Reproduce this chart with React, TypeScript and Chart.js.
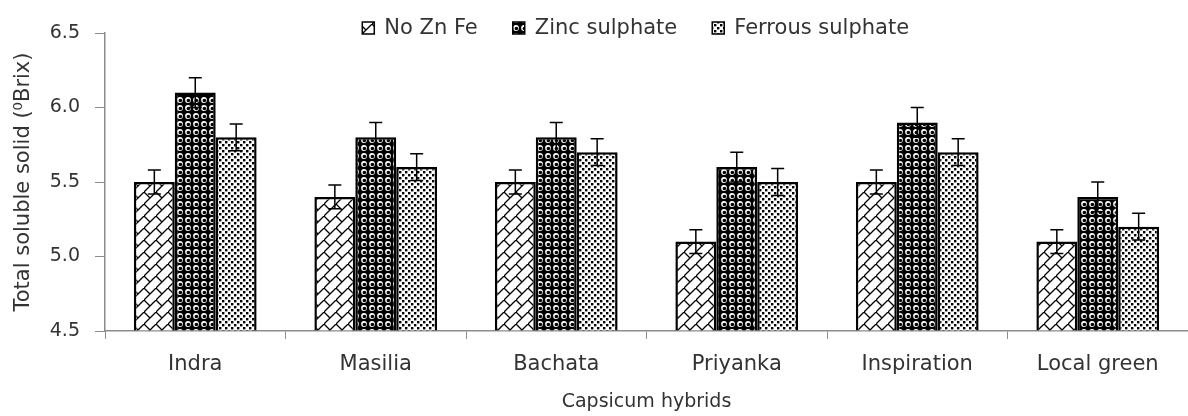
import React, { useEffect, useRef } from "react";
import { Chart, registerables } from "chart.js";

Chart.register(...registerables);

const categories = ["Indra", "Masilia", "Bachata", "Priyanka", "Inspiration", "Local green"];
const seriesNames = ["No Zn Fe", "Zinc sulphate", "Ferrous sulphate"];
const noZnFe = [5.5, 5.4, 5.5, 5.1, 5.5, 5.1];
const zincSulphate = [6.1, 5.8, 5.8, 5.6, 5.9, 5.4];
const ferrousSulphate = [5.8, 5.6, 5.7, 5.5, 5.7, 5.2];
const noZnFeErr = [0.08, 0.08, 0.08, 0.08, 0.08, 0.08];
const zincErr = [0.1, 0.1, 0.1, 0.1, 0.1, 0.1];
const ferrousErr = [0.09, 0.09, 0.09, 0.09, 0.09, 0.09];
const yTicks = [4.5, 5.0, 5.5, 6.0, 6.5];
const yTitle = "Total soluble solid (\u2070Brix)";
const xTitle = "Capsicum hybrids";

const FONT = "'DejaVu Sans', sans-serif";
const TEXT = "#333333";
const AXIS = "#8c8c8c";

function makeTile(size: number, draw: (c: CanvasRenderingContext2D) => void) {
  const cv = document.createElement("canvas");
  cv.width = size;
  cv.height = size;
  const c = cv.getContext("2d")!;
  draw(c);
  return c.createPattern(cv, "repeat")!;
}

function brickPattern() {
  return makeTile(12, (c) => {
    c.fillStyle = "#fff";
    c.fillRect(0, 0, 12, 12);
    c.strokeStyle = "#000";
    c.lineWidth = 1.3;
    c.beginPath();
    c.moveTo(-1, 13);
    c.lineTo(13, -1);
    c.moveTo(0, 0);
    c.lineTo(6, 6);
    c.moveTo(12, 0);
    c.lineTo(18, 6);
    c.moveTo(-6, 6);
    c.lineTo(0, 12);
    c.stroke();
  });
}

function spherePattern() {
  return makeTile(8, (c) => {
    c.fillStyle = "#000";
    c.fillRect(0, 0, 8, 8);
    c.fillStyle = "#fff";
    c.beginPath();
    c.arc(4, 4, 2.9, 0, Math.PI * 2);
    c.fill();
    c.fillStyle = "#000";
    c.beginPath();
    c.arc(4.4, 4.5, 1.8, 0, Math.PI * 2);
    c.fill();
  });
}

function dotPattern() {
  return makeTile(6, (c) => {
    c.fillStyle = "#fff";
    c.fillRect(0, 0, 6, 6);
    c.fillStyle = "#000";
    c.fillRect(0, 0, 2.4, 2.4);
    c.fillRect(3, 3, 2.4, 2.4);
  });
}

const errors = [noZnFeErr, zincErr, ferrousErr];

const errorBarPlugin = {
  id: "errorBars",
  afterDatasetsDraw(chart: any) {
    const { ctx } = chart;
    const y = chart.scales.y;
    chart.data.datasets.forEach((ds: any, i: number) => {
      const meta = chart.getDatasetMeta(i);
      meta.data.forEach((bar: any, j: number) => {
        const v = ds.data[j];
        const e = errors[i][j];
        const x = bar.x;
        const yt = y.getPixelForValue(v + e);
        const yb = y.getPixelForValue(v - e);
        ctx.save();
        ctx.strokeStyle = "#000";
        ctx.lineWidth = 1.5;
        ctx.beginPath();
        ctx.moveTo(x, yt);
        ctx.lineTo(x, yb);
        ctx.moveTo(x - 6.5, yt);
        ctx.lineTo(x + 6.5, yt);
        ctx.moveTo(x - 6.5, yb);
        ctx.lineTo(x + 6.5, yb);
        ctx.stroke();
        ctx.restore();
      });
    });
  },
};

const legendPlugin = {
  id: "patternLegend",
  afterDraw(chart: any) {
    const { ctx, chartArea } = chart;
    const box = 12;
    const gapText = 10;
    const gapItem = 35;
    ctx.save();
    ctx.font = `21px ${FONT}`;
    const items = chart.data.datasets.map((ds: any) => ({
      label: ds.label as string,
      fill: ds.backgroundColor,
      w: box + gapText + ctx.measureText(ds.label).width,
    }));
    const total = items.reduce((a: number, it: any) => a + it.w, 0) + gapItem * (items.length - 1);
    const center = chartArea.left + chartArea.width * 0.49;
    let x = center - total / 2;
    const cy = 28;
    items.forEach((it: any) => {
      ctx.fillStyle = it.fill;
      ctx.fillRect(x, cy - box / 2, box, box);
      ctx.strokeStyle = "#000";
      ctx.lineWidth = 1.5;
      ctx.strokeRect(x, cy - box / 2, box, box);
      ctx.fillStyle = TEXT;
      ctx.textBaseline = "middle";
      ctx.textAlign = "left";
      ctx.fillText(it.label, x + box + gapText, cy + 1);
      x += it.w + gapItem;
    });
    ctx.restore();
  },
};

export default function App() {
  const ref = useRef<HTMLCanvasElement | null>(null);

  useEffect(() => {
    document.body.style.margin = "0";
    const canvas = ref.current!;
    const patterns = [brickPattern(), spherePattern(), dotPattern()];
    const values = [noZnFe, zincSulphate, ferrousSulphate];
    const chart = new Chart(canvas, {
      type: "bar",
      data: {
        labels: categories,
        datasets: seriesNames.map((name, i) => ({
          label: name,
          data: values[i],
          backgroundColor: patterns[i],
          borderColor: "#000",
          borderWidth: 2.5,
          base: yTicks[0],
          barPercentage: 1,
          categoryPercentage: 0.68,
        })),
      },
      options: {
        animation: false,
        responsive: true,
        maintainAspectRatio: false,
        layout: { padding: { left: 0, top: 33, right: 0, bottom: 0 } },
        plugins: {
          legend: { display: false },
          tooltip: { enabled: false },
        },
        scales: {
          x: {
            grid: {
              display: true,
              drawOnChartArea: false,
              drawTicks: true,
              tickLength: 8,
              color: AXIS,
              offset: true,
            },
            border: { color: AXIS, width: 1.5 },
            ticks: { color: TEXT, font: { family: FONT, size: 21 }, padding: 13, maxRotation: 0 },
            title: {
              display: true,
              text: xTitle,
              color: TEXT,
              font: { family: FONT, size: 19 },
              padding: { top: 0, bottom: 3 },
            },
            afterFit: (s: any) => {
              s.height = 85;
            },
          },
          y: {
            min: yTicks[0],
            max: yTicks[yTicks.length - 1],
            afterBuildTicks: (s: any) => {
              s.ticks = yTicks.map((v) => ({ value: v }));
            },
            grid: {
              display: true,
              drawOnChartArea: false,
              tickLength: 10,
              color: AXIS,
            },
            border: { color: AXIS, width: 1.5 },
            ticks: {
              color: TEXT,
              font: { family: FONT, size: 19 },
              padding: 15,
              callback: (v: any) => Number(v).toFixed(1),
            },
            title: {
              display: true,
              text: yTitle,
              color: TEXT,
              font: { family: FONT, size: 21 },
              padding: { top: 11, bottom: 0 },
            },
            afterFit: (s: any) => {
              s.width = 105;
            },
          },
        },
      },
      plugins: [errorBarPlugin, legendPlugin],
    });
    return () => chart.destroy();
  }, []);

  return (
    <div style={{ width: 1188, height: 416, position: "relative", background: "#fff" }}>
      <canvas ref={ref} />
    </div>
  );
}
